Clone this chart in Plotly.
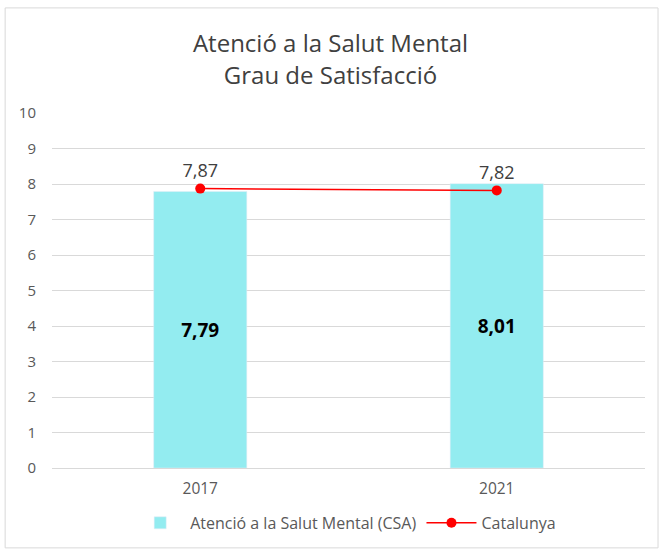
import plotly.graph_objects as go

years = ["2017", "2021"]
csa_values = [7.79, 8.01]
cat_values = [7.87, 7.82]

fig = go.Figure()
fig.add_trace(go.Bar(
    x=years, y=csa_values, name="Atenció a la Salut Mental (CSA)",
    marker_color="#93ECF0",
    texttemplate="<b>%{y:.2f}</b>", textposition="inside", insidetextanchor="middle",
    textfont=dict(size=19, color="#000000", family="Open Sans"),
))
fig.add_trace(go.Scatter(
    x=years, y=cat_values, name="Catalunya", mode="lines+markers+text",
    line=dict(color="#FF0000", width=1.5), marker=dict(color="#FF0000", size=10),
    texttemplate="%{y:.2f}", textposition="top center",
    textfont=dict(size=18, color="#404040", family="Open Sans"),
))

fig.update_layout(
    width=661, height=551,
    margin=dict(l=52, r=16, t=113, b=83),
    paper_bgcolor="white", plot_bgcolor="white",
    separators=",.",
    bargap=0.686,
    font=dict(family="Open Sans", color="#595959"),
    title=dict(text="Atenció a la Salut Mental<br>Grau de Satisfacció",
               x=0.5, xanchor="center", y=0.905, yanchor="middle",
               font=dict(size=24, color="#404040")),
    xaxis=dict(showgrid=False, showline=True, linecolor="#D9D9D9", automargin=False,
               tickfont=dict(size=15.5, color="#595959"), ticks="", ticklabelstandoff=6),
    yaxis=dict(range=[0, 10], dtick=1, showgrid=True, gridcolor="#D9D9D9", automargin=False,
               zeroline=False, tickfont=dict(size=15, color="#595959"), ticks="",
               ticklabelstandoff=15),
    legend=dict(orientation="h", x=0.523, xanchor="center", xref="container",
                y=0.051, yanchor="middle", yref="container", itemwidth=50,
                font=dict(size=16, color="#595959"), bgcolor="rgba(0,0,0,0)"),
    showlegend=True,
)
fig.add_shape(type="rect", xref="paper", yref="paper",
              x0=-0.079, x1=1.022, y0=-0.225, y1=1.296,
              line=dict(color="#D9D9D9", width=1), layer="below")
fig.write_html(
    "out.html",
    config={"displayModeBar": False, "responsive": False},
    post_script=("var s=document.createElement('style');"
                 "s.textContent='html,body{margin:0;padding:0;overflow:hidden;}';"
                 "document.head.appendChild(s);"),
)
